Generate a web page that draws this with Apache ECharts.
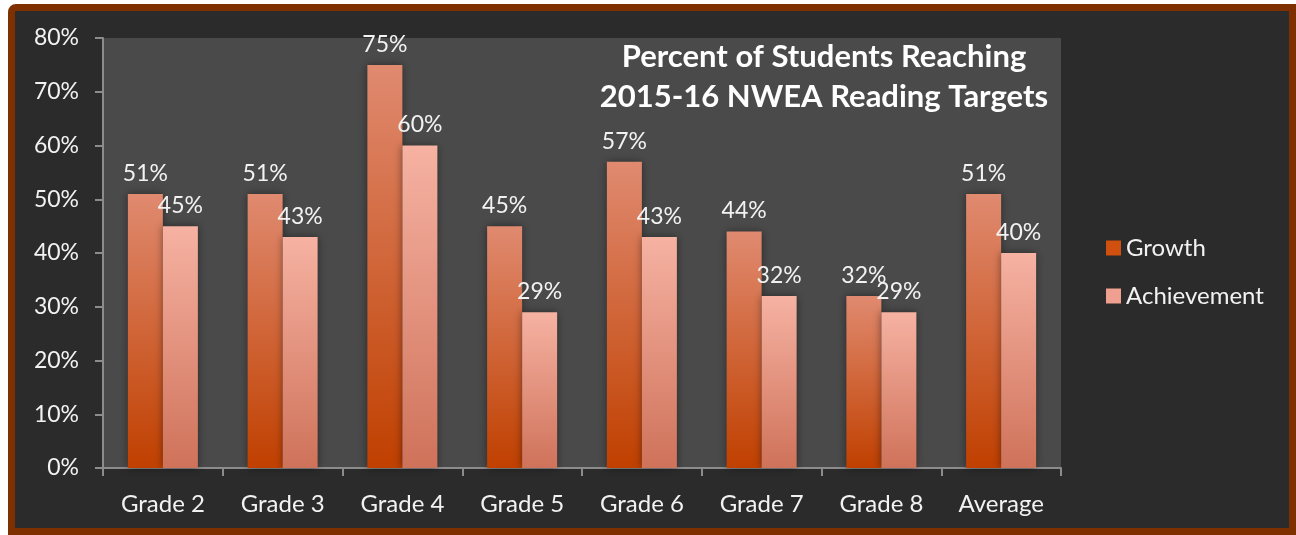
<!DOCTYPE html>
<html>
<head>
<meta charset="utf-8">
<script src="https://cdn.jsdelivr.net/npm/echarts@6/dist/echarts.min.js"></script>
<style>
  html, body { margin: 0; padding: 0; background: #ffffff; }
  #frame {
    position: absolute; left: 8px; top: 4px; width: 1274px; height: 517px;
    border: 7px solid #7f3000; border-radius: 8px 0 0 0; background: #2b2b2b;
  }
  #main { position: absolute; left: 0; top: 0; width: 1296px; height: 535px; }
</style>
</head>
<body>
<div id="frame"></div>
<div id="main"></div>
<script>
var categories = ['Grade 2', 'Grade 3', 'Grade 4', 'Grade 5', 'Grade 6', 'Grade 7', 'Grade 8', 'Average'];
var growth = [51, 51, 75, 45, 57, 44, 32, 51];
var achievement = [45, 43, 60, 29, 43, 32, 29, 40];
var titleLines = ['Percent of Students Reaching', '2015-16 NWEA Reading Targets'];

var chart = echarts.init(document.getElementById('main'));
var font = 'Lato';
function grad(top, bottom) {
  return new echarts.graphic.LinearGradient(0, 0, 0, 1, [
    { offset: 0, color: top }, { offset: 1, color: bottom }
  ]);
}
var labelStyle = {
  show: true, position: 'top', distance: 9,
  color: '#f2f2f2', fontSize: 23, fontFamily: font,
  formatter: '{c}%'
};
var option = {
  backgroundColor: 'transparent',
  textStyle: { fontFamily: font },
  grid: {
    show: true, backgroundColor: '#4a4a4a', borderWidth: 0,
    left: 103, right: 235, top: 38, bottom: 67
  },
  graphic: [{
    type: 'text', x: 824, y: 37,
    style: {
      text: titleLines.join('\n'), fill: '#ffffff', align: 'center',
      font: 'bold 31px Lato', lineHeight: 40
    }
  }],
  legend: {
    orient: 'vertical', left: 1101, top: 231, itemGap: 24,
    icon: 'rect', itemWidth: 15, itemHeight: 15,
    textStyle: { color: '#f2f2f2', fontSize: 24, fontFamily: font },
    data: ['Growth', 'Achievement']
  },
  xAxis: {
    type: 'category', data: categories,
    axisLine: { lineStyle: { color: '#8c8c8c', width: 2 } },
    axisTick: { show: true, length: 8, lineStyle: { color: '#8c8c8c', width: 2 } },
    axisLabel: { color: '#f2f2f2', fontSize: 24, margin: 24, fontFamily: font }
  },
  yAxis: {
    type: 'value', min: 0, max: 80, interval: 10,
    axisLine: { show: true, lineStyle: { color: '#8c8c8c', width: 2 } },
    axisTick: { show: true, length: 8, lineStyle: { color: '#8c8c8c', width: 2 } },
    splitLine: { show: false },
    axisLabel: { color: '#f2f2f2', fontSize: 23, margin: 24, formatter: '{value}%', fontFamily: font }
  },
  series: [{
    name: 'Growth', type: 'bar', data: growth,
    barWidth: 35, barGap: '0%',
    itemStyle: {
      color: grad('#e08a70', '#c04000'),
      shadowBlur: 8, shadowColor: 'rgba(0,0,0,0.45)'
    },
    label: labelStyle
  }, {
    name: 'Achievement', type: 'bar', data: achievement,
    barWidth: 35,
    itemStyle: {
      color: grad('#f6b2a2', '#cf725a'),
      shadowBlur: 8, shadowColor: 'rgba(0,0,0,0.45)'
    },
    label: labelStyle
  }]
};
option.legend.data = [
  { name: 'Growth', itemStyle: { color: '#d05010' } },
  { name: 'Achievement', itemStyle: { color: '#f0a090' } }
];
chart.setOption(option);
</script>
</body>
</html>
